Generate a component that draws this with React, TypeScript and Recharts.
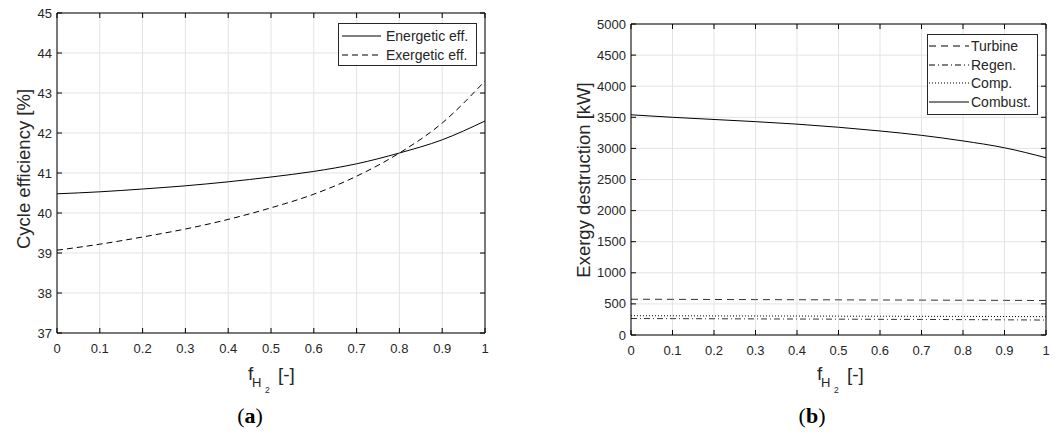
import { LineChart, Line, XAxis, YAxis, CartesianGrid, ReferenceLine } from "recharts";

// fraction of hydrogen in fuel
const fracH2 = [0, 0.1, 0.2, 0.3, 0.4, 0.5, 0.6, 0.7, 0.8, 0.9, 1];

// (a) cycle efficiency [%]
const energeticEff = [40.48, 40.53, 40.6, 40.68, 40.78, 40.9, 41.04, 41.23, 41.5, 41.83, 42.3];
const exergeticEff = [39.07, 39.22, 39.4, 39.6, 39.84, 40.13, 40.47, 40.92, 41.5, 42.25, 43.3];

// (b) exergy destruction [kW]
const turbineDestr = [575, 573, 571, 569, 567, 565, 563, 561, 559, 557, 555];
const regenDestr = [265, 263, 261, 259, 257, 255, 252, 250, 247, 244, 240];
const compDestr = [310, 309, 307, 306, 305, 303, 302, 300, 299, 297, 295];
const combustDestr = [3540, 3500, 3465, 3430, 3390, 3340, 3280, 3210, 3120, 3010, 2850];

const xTicks = [0, 0.1, 0.2, 0.3, 0.4, 0.5, 0.6, 0.7, 0.8, 0.9, 1];
const effTicks = [37, 38, 39, 40, 41, 42, 43, 44, 45];
const destrTicks = [0, 500, 1000, 1500, 2000, 2500, 3000, 3500, 4000, 4500, 5000];

const effData = fracH2.map((f, i) => ({ f, energetic: energeticEff[i], exergetic: exergeticEff[i] }));
const destrData = fracH2.map((f, i) => ({
  f,
  turbine: turbineDestr[i],
  regen: regenDestr[i],
  comp: compDestr[i],
  combust: combustDestr[i],
}));

const FONT = "'Liberation Sans', Arial, Helvetica, sans-serif";
const TXT = "#262626";

type Box = { left: number; right: number; top: number; bottom: number };

const makeXTick = (b: Box) => (props: any) => {
  const { x, payload } = props;
  return (
    <g>
      <line x1={x} x2={x} y1={b.bottom} y2={b.bottom - 5} stroke="#000" />
      <line x1={x} x2={x} y1={b.top} y2={b.top + 5} stroke="#000" />
      <text x={x} y={b.bottom + 15.5} textAnchor="middle" dominantBaseline="central" fontSize={13} fill={TXT} fontFamily={FONT}>
        {String(payload.value)}
      </text>
    </g>
  );
};

const makeYTick = (b: Box) => (props: any) => {
  const { y, payload } = props;
  return (
    <g>
      <line x1={b.left} x2={b.left + 5} y1={y} y2={y} stroke="#000" />
      <line x1={b.right} x2={b.right - 5} y1={y} y2={y} stroke="#000" />
      <text x={b.left - 5} y={y} textAnchor="end" dominantBaseline="central" fontSize={13} fill={TXT} fontFamily={FONT}>
        {String(payload.value)}
      </text>
    </g>
  );
};

// f with subscript H2, then [-]
const XLabel = ({ x, y }: { x: number; y: number }) => (
  <text y={y} fill={TXT} fontFamily={FONT}>
    <tspan x={x} fontSize={19}>f</tspan>
    <tspan x={x + 4} dy={7} fontSize={13}>H</tspan>
    <tspan x={x + 17} dy={6} fontSize={8.5}>2</tspan>
    <tspan x={x + 30} dy={-12} fontSize={19}>[-]</tspan>
  </text>
);

const legendSample = (w: number, dash?: string) => (
  <svg width={w} height={10} style={{ display: "block" }}>
    <line x1={0} x2={w} y1={5} y2={5} stroke="#000" strokeWidth={1} strokeDasharray={dash} />
  </svg>
);

type LegendProps = {
  items: { name: string; dash?: string }[];
  left: number;
  top: number;
  width: number;
  height: number;
  rowH: number;
  padLeft: number;
  sampleW: number;
  gap: number;
};

const LegendBox = ({ items, left, top, width, height, rowH, padLeft, sampleW, gap }: LegendProps) => (
  <div
    style={{
      position: "absolute",
      left,
      top,
      width,
      height,
      border: "1px solid #262626",
      background: "#fff",
      paddingTop: 2,
      paddingLeft: padLeft,
      boxSizing: "border-box",
    }}
  >
    {items.map((it) => (
      <div key={it.name} style={{ display: "flex", alignItems: "center", height: rowH, fontFamily: FONT, fontSize: 14, color: TXT }}>
        {legendSample(sampleW, it.dash)}
        <span style={{ marginLeft: gap }}>{it.name}</span>
      </div>
    ))}
  </div>
);

const Caption = ({ letter, x }: { letter: string; x: number }) => (
  <div
    style={{
      position: "absolute",
      left: x - 30,
      width: 60,
      top: 403,
      textAlign: "center",
      fontFamily: "'Liberation Serif', 'DejaVu Serif', serif",
      fontSize: 22,
      color: "#000",
    }}
  >
    (<b>{letter}</b>)
  </div>
);

const boxA: Box = { left: 57, right: 485, top: 13, bottom: 333 };
const boxB: Box = { left: 101, right: 516, top: 24, bottom: 335 };

const App = () => {
  return (
    <div style={{ position: "absolute", left: 0, top: 0, width: 1059, height: 434, background: "#fff" }}>
      <div style={{ position: "absolute", left: 0, top: 0 }}>
        <LineChart width={530} height={434} data={effData} margin={{ top: boxA.top, right: 530 - boxA.right, left: 0, bottom: 0 }}>
          <CartesianGrid stroke="#e3e3e3" />
          <XAxis
            dataKey="f"
            type="number"
            domain={[0, 1]}
            ticks={xTicks}
            height={434 - boxA.bottom}
            axisLine={{ stroke: "#000" }}
            tickLine={false}
            tick={makeXTick(boxA)}
            label={{ content: () => <XLabel x={248} y={380} /> }}
          />
          <YAxis
            type="number"
            domain={[37, 45]}
            ticks={effTicks}
            width={boxA.left}
            axisLine={{ stroke: "#000" }}
            tickLine={false}
            tick={makeYTick(boxA)}
            label={{
              content: () => (
                <text x={23} y={169} transform="rotate(-90 23 169)" textAnchor="middle" dominantBaseline="central" fontSize={18.5} fill={TXT} fontFamily={FONT}>
                  Cycle efficiency [%]
                </text>
              ),
            }}
          />
          <ReferenceLine y={45} stroke="#000" />
          <ReferenceLine x={1} stroke="#000" />
          <Line type="monotone" dataKey="energetic" name="Energetic eff." stroke="#000" strokeWidth={1} dot={false} isAnimationActive={false} />
          <Line type="monotone" dataKey="exergetic" name="Exergetic eff." stroke="#000" strokeWidth={1} strokeDasharray="6 4" dot={false} isAnimationActive={false} />
        </LineChart>
        <LegendBox
          left={338}
          top={23}
          width={139}
          height={43}
          rowH={19.5}
          padLeft={3}
          sampleW={39}
          gap={5}
          items={[
            { name: "Energetic eff." },
            { name: "Exergetic eff.", dash: "6 4" },
          ]}
        />
      </div>

      <div style={{ position: "absolute", left: 530, top: 0 }}>
        <LineChart width={529} height={434} data={destrData} margin={{ top: boxB.top, right: 529 - boxB.right, left: 0, bottom: 0 }}>
          <CartesianGrid stroke="#e3e3e3" />
          <XAxis
            dataKey="f"
            type="number"
            domain={[0, 1]}
            ticks={xTicks}
            height={434 - boxB.bottom}
            axisLine={{ stroke: "#000" }}
            tickLine={false}
            tick={makeXTick(boxB)}
            label={{ content: () => <XLabel x={287} y={380} /> }}
          />
          <YAxis
            type="number"
            domain={[0, 5000]}
            ticks={destrTicks}
            width={boxB.left}
            axisLine={{ stroke: "#000" }}
            tickLine={false}
            tick={makeYTick(boxB)}
            label={{
              content: () => (
                <text x={53} y={180} transform="rotate(-90 53 180)" textAnchor="middle" dominantBaseline="central" fontSize={18.5} fill={TXT} fontFamily={FONT}>
                  Exergy destruction [kW]
                </text>
              ),
            }}
          />
          <ReferenceLine y={5000} stroke="#000" />
          <ReferenceLine x={1} stroke="#000" />
          <Line type="monotone" dataKey="turbine" name="Turbine" stroke="#333" strokeWidth={1} strokeDasharray="7 5" dot={false} isAnimationActive={false} />
          <Line type="monotone" dataKey="regen" name="Regen." stroke="#333" strokeWidth={1} strokeDasharray="6 3 1 3" dot={false} isAnimationActive={false} />
          <Line type="monotone" dataKey="comp" name="Comp." stroke="#000" strokeWidth={1} strokeDasharray="1 2" dot={false} isAnimationActive={false} />
          <Line type="monotone" dataKey="combust" name="Combust." stroke="#000" strokeWidth={1} dot={false} isAnimationActive={false} />
        </LineChart>
        <LegendBox
          left={397}
          top={34}
          width={111}
          height={81}
          rowH={18.5}
          padLeft={1}
          sampleW={40}
          gap={2}
          items={[
            { name: "Turbine", dash: "7 5" },
            { name: "Regen.", dash: "6 3 1 3" },
            { name: "Comp.", dash: "1 2" },
            { name: "Combust." },
          ]}
        />
      </div>

      <Caption letter="a" x={250} />
      <Caption letter="b" x={812} />
    </div>
  );
};

export default App;
